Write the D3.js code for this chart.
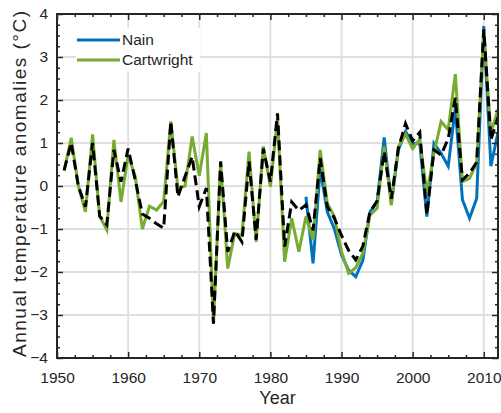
<!DOCTYPE html>
<html>
<head>
<meta charset="utf-8">
<script src="https://cdn.jsdelivr.net/npm/d3@7"></script>
<style>
  html, body { margin: 0; padding: 0; background: #fff; }
  svg { display: block; }
  text { font-family: "Liberation Sans", Arial, Helvetica, sans-serif; fill: #262626; }
</style>
</head>
<body>
<svg id="chart" width="501" height="413"></svg>
<script>
// Annual temperature anomalies (°C), 1951–2012
const years = d3.range(1951, 2013);

const cartwright = [
  0.35, 1.12, 0.0, -0.6, 1.2, -0.7, -1.02, 1.07, -0.37, 0.72,
  0.22, -1.0, -0.47, -0.56, -0.36, 1.5, -0.05, 0.0, 1.15, 0.24,
  1.23, -3.2, 0.57, -1.92, -1.1, -1.15, 0.8, -1.3, 0.92, -0.02,
  1.58, -1.76, -0.75, -1.53, -0.71, -1.26, 0.84, -0.4, -0.71, -1.53,
  -2.03, -1.9, -1.57, -0.68, -0.52, 0.92, -0.45, 0.92, 1.2, 0.87,
  1.09, -0.17, 0.76, 1.5, 1.31, 2.6, 0.1, 0.18, 0.53, 3.56,
  1.23, 1.78
];

// Nain record begins in 1985
const nain = [
  null, null, null, null, null, null, null, null, null, null,
  null, null, null, null, null, null, null, null, null, null,
  null, null, null, null, null, null, null, null, null, null,
  null, null, null, null, -0.25, -1.8, 0.4, -0.6, -1.0, -1.6,
  -1.96, -2.11, -1.73, -0.6, -0.38, 1.13, -0.4, 0.84, 1.27, 0.98,
  1.0, -0.71, 0.99, 0.76, 0.46, 1.81, -0.32, -0.75, -0.29, 3.72,
  0.46, 1.25
];

// Combined regional series (dashed)
const combined = [
  0.37, 1.0, 0.0, -0.48, 1.0, -0.7, -0.9, 0.84, 0.1, 0.87,
  0.14, -0.65, -0.75, -0.88, -0.98, 1.5, -0.25, 0.22, 0.68, -0.48,
  -0.05, -3.2, 0.57, -1.53, -1.05, -1.3, 0.57, -1.25, 0.87, 0.1,
  1.69, -1.41, -0.37, -0.57, -0.44, -1.03, 0.65, -0.48, -0.75, -1.15,
  -1.5, -1.72, -1.4, -0.6, -0.35, 0.8, -0.3, 0.88, 1.45, 1.05,
  1.25, -0.67, 0.84, 0.72, 1.1, 2.05, 0.14, 0.3, 0.55, 3.64,
  1.07, 1.6
];

const xMajor = [1950, 1960, 1970, 1980, 1990, 2000, 2010];
const yMajor = [-4, -3, -2, -1, 0, 1, 2, 3, 4];
const legendNames = ["Nain", "Cartwright"];

const colors = { nain: "#0072BD", cartwright: "#77AC30", combined: "#000000" };

const svg = d3.select("#chart");
const m = { left: 57, right: 498, top: 14, bottom: 358 };

const x = d3.scaleLinear().domain([1950, 2012]).range([m.left, m.right]);
const y = d3.scaleLinear().domain([-4, 4]).range([m.bottom, m.top]);

const xMinor = d3.range(1950, 2012.01, 2.5).filter(v => !xMajor.includes(v));
const yMinor = d3.range(-4, 4.001, 0.25).filter(v => !yMajor.includes(v));

// grid
const grid = svg.append("g").attr("stroke", "#dfdfdf").attr("stroke-width", 1.8);
grid.selectAll("line.gx").data(xMajor.filter(v => v > 1950)).join("line")
  .attr("x1", d => x(d)).attr("x2", d => x(d)).attr("y1", m.top).attr("y2", m.bottom);
grid.selectAll("line.gy").data(yMajor.filter(v => v > -4 && v < 4)).join("line")
  .attr("y1", d => y(d)).attr("y2", d => y(d)).attr("x1", m.left).attr("x2", m.right);

// data lines
svg.append("clipPath").attr("id", "plotclip").append("rect")
  .attr("x", m.left).attr("y", m.top).attr("width", m.right - m.left).attr("height", m.bottom - m.top);

const plot = svg.append("g").attr("clip-path", "url(#plotclip)");
function lineFor(vals) {
  return d3.line()
    .defined((d, i) => vals[i] !== null)
    .x((d, i) => x(years[i]))
    .y((d, i) => y(vals[i]))(vals);
}
plot.append("path").attr("d", lineFor(nain)).attr("fill", "none")
  .attr("stroke", colors.nain).attr("stroke-width", 3);
plot.append("path").attr("d", lineFor(cartwright)).attr("fill", "none")
  .attr("stroke", colors.cartwright).attr("stroke-width", 3);
plot.append("path").attr("d", lineFor(combined)).attr("fill", "none")
  .attr("stroke", colors.combined).attr("stroke-width", 3).attr("stroke-dasharray", "10,5");

// axes with inward ticks
function styleAxis(g) {
  g.select(".domain").remove();
  g.selectAll(".tick line").attr("stroke", "#262626").attr("stroke-width", 1.5);
  g.selectAll(".tick text").style("font-size", "15.5px").attr("fill", "#262626");
}
svg.append("g").attr("transform", `translate(0,${m.bottom})`)
  .call(d3.axisBottom(x).tickValues(xMajor).tickFormat(d3.format("d")).tickSize(-6).tickPadding(14))
  .call(styleAxis);
svg.append("g").attr("transform", `translate(0,${m.bottom})`)
  .call(d3.axisBottom(x).tickValues(xMinor).tickFormat("").tickSize(-3))
  .call(styleAxis);
svg.append("g").attr("transform", `translate(0,${m.top})`)
  .call(d3.axisTop(x).tickValues(xMajor).tickFormat("").tickSize(-6))
  .call(styleAxis);
svg.append("g").attr("transform", `translate(0,${m.top})`)
  .call(d3.axisTop(x).tickValues(xMinor).tickFormat("").tickSize(-3))
  .call(styleAxis);
svg.append("g").attr("transform", `translate(${m.left},0)`)
  .call(d3.axisLeft(y).tickValues(yMajor).tickFormat(d3.format("d")).tickSize(-6).tickPadding(9))
  .call(styleAxis);
svg.append("g").attr("transform", `translate(${m.left},0)`)
  .call(d3.axisLeft(y).tickValues(yMinor).tickFormat("").tickSize(-3))
  .call(styleAxis);
svg.append("g").attr("transform", `translate(${m.right},0)`)
  .call(d3.axisRight(y).tickValues(yMajor).tickFormat("").tickSize(-6))
  .call(styleAxis);
svg.append("g").attr("transform", `translate(${m.right},0)`)
  .call(d3.axisRight(y).tickValues(yMinor).tickFormat("").tickSize(-3))
  .call(styleAxis);

// frame
svg.append("rect").attr("x", m.left).attr("y", m.top)
  .attr("width", m.right - m.left).attr("height", m.bottom - m.top)
  .attr("fill", "none").attr("stroke", "#262626").attr("stroke-width", 2);

// legend
const lg = svg.append("g");
lg.append("rect").attr("x", 76).attr("y", 28).attr("width", 124).attr("height", 44).attr("fill", "#fff");
const legendColors = [colors.nain, colors.cartwright];
legendNames.forEach((name, i) => {
  const ly = 40 + i * 20;
  lg.append("line").attr("x1", 77).attr("x2", 120).attr("y1", ly).attr("y2", ly)
    .attr("stroke", legendColors[i]).attr("stroke-width", 3);
  lg.append("text").attr("x", 122).attr("y", ly).attr("dy", "0.35em")
    .style("font-size", "15.5px").text(name);
});

// axis titles
svg.append("text").attr("x", (m.left + m.right) / 2).attr("y", 404)
  .attr("text-anchor", "middle").style("font-size", "18px").text("Year");
svg.append("text").attr("transform", `translate(26,${(m.top + m.bottom) / 2 - 2}) rotate(-90)`)
  .attr("text-anchor", "middle").style("font-size", "19px")
  .attr("textLength", 346).attr("lengthAdjust", "spacing")
  .text("Annual temperature anomalies (°C)");
</script>
</body>
</html>
